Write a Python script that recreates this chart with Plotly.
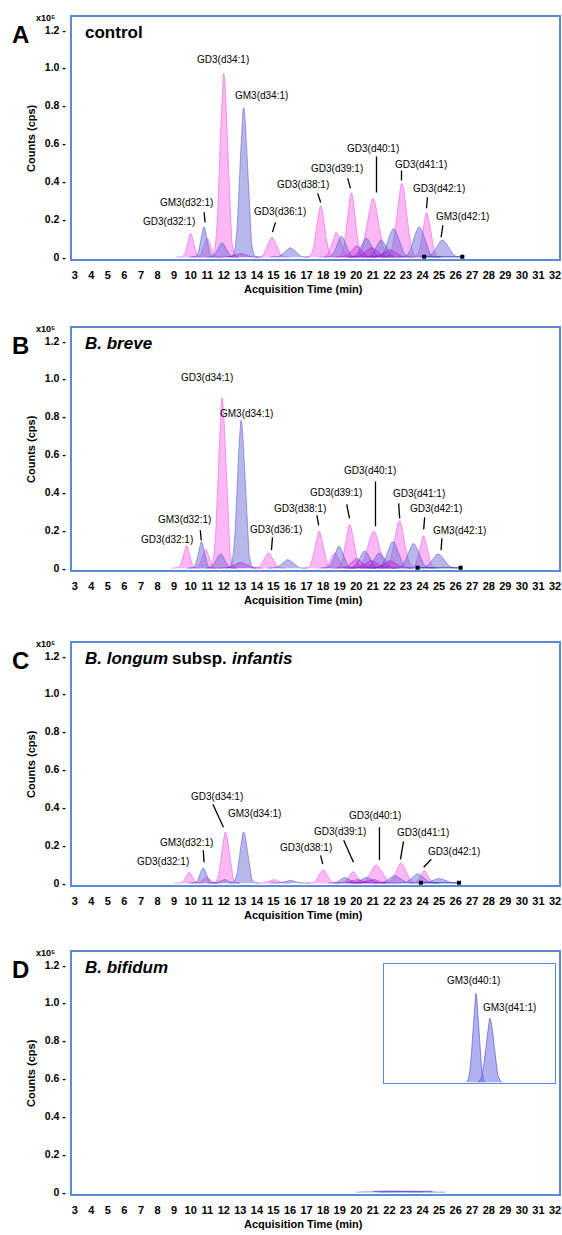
import numpy as np
import plotly.graph_objects as go

# ---------------- data (retention time in min, height in x10^5 cps, width sigma in min) -------------
x_ticks = list(range(3, 33))
y_ticks = [0, 0.2, 0.4, 0.6, 0.8, 1.0, 1.2]
y_tick_text = ["0 -", "0.2 -", "0.4 -", "0.6 -", "0.8 -", "1.0 -", "1.2 -"]

# Panel A: control
A_gd3_rt = [10.0, 11.0, 12.0, 14.9, 17.85, 18.8, 19.7, 21.0, 22.75, 24.25]
A_gd3_h = [0.125, 0.10, 0.97, 0.105, 0.27, 0.13, 0.34, 0.31, 0.39, 0.235]
A_gd3_w = [0.18, 0.2, 0.22, 0.26, 0.24, 0.26, 0.24, 0.34, 0.29, 0.23]
A_gm3_rt = [10.8, 11.9, 13.2, 16.0, 19.1, 20.6, 21.5, 22.25, 23.8, 25.2]
A_gm3_h = [0.16, 0.075, 0.79, 0.05, 0.11, 0.10, 0.09, 0.15, 0.16, 0.09]
A_gm3_w = [0.18, 0.24, 0.22, 0.3, 0.26, 0.3, 0.3, 0.32, 0.32, 0.34]
A_min_rt = [13.0, 20.0, 20.9, 22.0]
A_min_h = [0.02, 0.06, 0.05, 0.04]
A_min_w = [0.34, 0.3, 0.34, 0.34]
A_mark = [24.1, 26.4]

# Panel B: B. breve
B_gd3_rt = [9.75, 10.9, 11.9, 14.7, 17.75, 18.7, 19.6, 21.05, 22.6, 24.05]
B_gd3_h = [0.12, 0.10, 0.90, 0.08, 0.195, 0.08, 0.23, 0.195, 0.25, 0.17]
B_gd3_w = [0.18, 0.2, 0.22, 0.26, 0.24, 0.24, 0.24, 0.34, 0.29, 0.23]
B_gm3_rt = [10.65, 11.8, 13.05, 15.85, 18.95, 20.5, 21.4, 22.2, 23.45, 24.95]
B_gm3_h = [0.14, 0.075, 0.78, 0.045, 0.115, 0.09, 0.08, 0.14, 0.13, 0.075]
B_gm3_w = [0.18, 0.24, 0.22, 0.3, 0.26, 0.3, 0.3, 0.32, 0.32, 0.34]
B_min_rt = [13.0, 20.0, 20.9, 22.0]
B_min_h = [0.03, 0.05, 0.04, 0.04]
B_min_w = [0.34, 0.3, 0.34, 0.34]
B_mark = [23.7, 26.3]

# Panel C: B. longum subsp. infantis
C_gd3_rt = [9.9, 10.95, 12.1, 15.0, 18.0, 19.8, 21.2, 22.7, 24.1]
C_gd3_h = [0.058, 0.03, 0.27, 0.02, 0.07, 0.06, 0.095, 0.105, 0.065]
C_gd3_w = [0.18, 0.2, 0.22, 0.26, 0.24, 0.24, 0.34, 0.29, 0.23]
C_gm3_rt = [10.75, 12.0, 13.2, 16.0, 19.3, 20.6, 22.3, 23.7, 25.0]
C_gm3_h = [0.08, 0.02, 0.27, 0.015, 0.03, 0.03, 0.04, 0.05, 0.025]
C_gm3_w = [0.18, 0.24, 0.22, 0.3, 0.26, 0.3, 0.32, 0.32, 0.34]
C_min_rt = [20.0, 21.0]
C_min_h = [0.02, 0.02]
C_min_w = [0.34, 0.34]
C_mark = [23.9, 26.2]

# Panel D: B. bifidum (tiny GM3 signal) and inset
D_gm3_rt = [22.0, 23.4]
D_gm3_h = [0.006, 0.004]
D_gm3_w = [0.5, 0.5]
INSET_rt = [23.38, 24.2]
INSET_h = [0.75, 0.54]
INSET_w = [0.17, 0.22]
INSET_names = ["GM3(d40:1)", "GM3(d41:1)"]

# peak labels: text, x (min), y (x10^5 cps), leader line
A_lbl = ["GD3(d34:1)", "GM3(d34:1)", "GM3(d32:1)", "GD3(d32:1)", "GD3(d36:1)", "GD3(d38:1)",
         "GD3(d39:1)", "GD3(d40:1)", "GD3(d41:1)", "GD3(d42:1)", "GM3(d42:1)"]
A_lbl_x = [11.98, 14.30, 9.77, 8.72, 15.41, 16.80, 18.84, 20.99, 23.90, 25.0, 26.40]
A_lbl_y = [1.042, 0.853, 0.289, 0.189, 0.242, 0.384, 0.468, 0.574, 0.489, 0.363, 0.216]
A_lead = [None, None, (10.81, 0.237, 10.87, 0.184), None, (15.12, 0.184, 14.94, 0.132),
          (17.67, 0.337, 17.85, 0.289), (19.48, 0.416, 19.65, 0.363), (21.22, 0.532, 21.22, 0.342),
          (22.73, 0.458, 22.73, 0.405), (24.30, 0.316, 24.24, 0.258), (25.23, 0.168, 25.12, 0.105)]

B_lbl = A_lbl
B_lbl_x = [11.0, 13.4, 9.60, 8.55, 15.17, 16.63, 18.78, 20.81, 23.78, 24.83, 26.22]
B_lbl_y = [1.005, 0.816, 0.258, 0.153, 0.205, 0.316, 0.400, 0.516, 0.395, 0.316, 0.200]
B_lead = [None, None, (10.58, 0.200, 10.64, 0.147), None, (14.94, 0.163, 14.88, 0.095),
          (17.62, 0.279, 17.73, 0.226), (19.42, 0.337, 19.59, 0.263), (21.16, 0.458, 21.16, 0.221),
          (22.56, 0.342, 22.62, 0.263), (24.13, 0.268, 24.07, 0.205), (25.17, 0.158, 25.12, 0.095)]

C_lbl = ["GD3(d34:1)", "GM3(d34:1)", "GM3(d32:1)", "GD3(d32:1)", "GD3(d38:1)",
         "GD3(d39:1)", "GD3(d40:1)", "GD3(d41:1)", "GD3(d42:1)"]
C_lbl_x = [11.57, 13.84, 9.77, 8.30, 16.98, 19.01, 21.16, 24.01, 25.93]
C_lbl_y = [0.458, 0.368, 0.216, 0.116, 0.189, 0.274, 0.358, 0.268, 0.168]
C_lead = [(11.34, 0.416, 11.98, 0.295), None, (10.76, 0.174, 10.81, 0.110), None,
          (17.85, 0.147, 17.97, 0.100), (19.24, 0.226, 19.83, 0.110), (21.40, 0.295, 21.40, 0.121),
          (22.85, 0.221, 22.67, 0.126), (24.53, 0.126, 24.07, 0.084)]

INSET_lbl_x = [23.26, 25.37]
INSET_lbl_y = [0.857, 0.63]

# panel titles as (text, italic) pieces
titles = [
    [("control", False)],
    [("B. breve", True)],
    [("B. longum", True), ("subsp.", False), ("infantis", True)],
    [("B. bifidum", True)],
]
letters = ["A", "B", "C", "D"]

# ---------------- styling ----------------
W, H = 562, 1235
FONT = "Liberation Sans, Arial, Helvetica, sans-serif"
AX = "#5b8ad6"
PINK_FILL = "rgba(245,85,230,0.42)"
PINK_LINE = "rgba(230,60,210,0.55)"
BLUE_FILL = "rgba(105,105,215,0.48)"
BLUE_LINE = "rgba(85,85,200,0.65)"
MAG_FILL = "rgba(185,0,215,0.32)"
MAG_LINE = "rgba(170,0,200,0.5)"

X0, X1 = 72, 561
PX_PER_MIN = (557 - 75) / 29.0
XR = [3 - (75 - X0) / PX_PER_MIN, 32 + (X1 - 557) / PX_PER_MIN]
PX_PER_UNIT = 190.0
TITLE_SIZE = 17
# approximate advance widths (em) of bold Liberation Sans for laying out title pieces
CHAR_EM = {"B": 0.722, ".": 0.278, " ": 0.278, "l": 0.278, "o": 0.611, "n": 0.611, "g": 0.611,
           "u": 0.611, "m": 0.889, "s": 0.556, "b": 0.611, "p": 0.611}

# (box top px, zero px)
panels = [(17, 258), (329, 570), (645, 886), (955, 1196)]

fig = go.Figure()
layout = dict(width=W, height=H, margin=dict(l=0, r=0, t=0, b=0), paper_bgcolor="white",
              plot_bgcolor="white", showlegend=False)
annotations = []
shapes = []


def peak_trace(rt, h, w, fill, line, xa, ya):
    half = max(4 * w, 0.9)
    xs = np.linspace(rt - half, rt + half, 90)
    ys = h * np.exp(-0.5 * ((xs - rt) / w) ** 2)
    return go.Scatter(x=xs, y=ys, mode="lines", fill="tozeroy", fillcolor=fill,
                      line=dict(color=line, width=0.8), xaxis=xa, yaxis=ya, hoverinfo="skip")


series = [
    [(A_gd3_rt, A_gd3_h, A_gd3_w, PINK_FILL, PINK_LINE), (A_gm3_rt, A_gm3_h, A_gm3_w, BLUE_FILL, BLUE_LINE),
     (A_min_rt, A_min_h, A_min_w, MAG_FILL, MAG_LINE)],
    [(B_gd3_rt, B_gd3_h, B_gd3_w, PINK_FILL, PINK_LINE), (B_gm3_rt, B_gm3_h, B_gm3_w, BLUE_FILL, BLUE_LINE),
     (B_min_rt, B_min_h, B_min_w, MAG_FILL, MAG_LINE)],
    [(C_gd3_rt, C_gd3_h, C_gd3_w, PINK_FILL, PINK_LINE), (C_gm3_rt, C_gm3_h, C_gm3_w, BLUE_FILL, BLUE_LINE),
     (C_min_rt, C_min_h, C_min_w, MAG_FILL, MAG_LINE)],
    [(D_gm3_rt, D_gm3_h, D_gm3_w, BLUE_FILL, BLUE_LINE)],
]
marks = [A_mark, B_mark, C_mark, None]
labels = [(A_lbl, A_lbl_x, A_lbl_y, A_lead), (B_lbl, B_lbl_x, B_lbl_y, B_lead),
          (C_lbl, C_lbl_x, C_lbl_y, C_lead), None]


def txt(text, x, y, size, anchor="center", italic=False, bold=True, angle=0, xref="paper", yref="paper"):
    return dict(text=text, x=x, y=y, xref=xref, yref=yref, showarrow=False, xanchor=anchor,
                yanchor="middle", textangle=angle,
                font=dict(family=FONT, size=size, color="black", weight="bold" if bold else "normal",
                          style="italic" if italic else "normal"))


for i, (top, zero) in enumerate(panels):
    n = i + 1
    sfx = "" if n == 1 else str(n)
    xa, ya = "x" + sfx, "y" + sfx
    bottom = zero + 2
    ylo = -(bottom - zero) / PX_PER_UNIT
    yhi = (zero - top) / PX_PER_UNIT
    layout["xaxis" + sfx] = dict(
        domain=[X0 / W, X1 / W], range=XR, anchor=ya, tickmode="array", tickvals=x_ticks,
        ticktext=[str(t) for t in x_ticks], ticks="", ticklabelstandoff=5, ticklabeloverflow="allow",
        tickfont=dict(family=FONT, size=11, color="black", weight="bold"),
        showline=True, linecolor=AX, linewidth=1.6, mirror=True, showgrid=False, zeroline=False)
    layout["yaxis" + sfx] = dict(
        domain=[1 - bottom / H, 1 - top / H], range=[ylo, yhi], anchor=xa, tickmode="array",
        tickvals=y_ticks, ticktext=y_tick_text, ticks="", ticklabelstandoff=2,
        tickfont=dict(family=FONT, size=10.5, color="black", weight="bold"),
        showline=True, linecolor=AX, linewidth=1.6, mirror=True, showgrid=False, zeroline=False)

    for rts, hs, ws, fc, lc in series[i]:
        for rt, h, w in zip(rts, hs, ws):
            fig.add_trace(peak_trace(rt, h, w, fc, lc, xa, ya))
    if i == 3:
        fig.add_trace(go.Scatter(x=[21.05, 24.6], y=[0.003, 0.003], mode="lines",
                                 line=dict(color=BLUE_LINE, width=1.5), xaxis=xa, yaxis=ya))
    if marks[i] is not None:
        fig.add_trace(go.Scatter(x=marks[i], y=[0.002, 0.002], mode="lines+markers",
                                 line=dict(color="rgba(40,60,170,0.8)", width=1),
                                 marker=dict(symbol="square", size=4, color="black"),
                                 xaxis=xa, yaxis=ya))
    if labels[i] is not None:
        txts, lx, ly, leads = labels[i]
        for t, x, y, ld in zip(txts, lx, ly, leads):
            annotations.append(txt(t, x, y, 10, bold=False, xref=xa, yref=ya))
            if ld is not None:
                shapes.append(dict(type="line", xref=xa, yref=ya, x0=ld[0], y0=ld[1], x1=ld[2], y1=ld[3],
                                   line=dict(color="black", width=1.3)))

    # panel decorations
    annotations.append(txt(letters[i], 21 / W, 1 - (top + 18) / H, 24))
    annotations.append(txt("x10⁵", 46 / W, 1 - (top + 1) / H, 9))
    xpos = 83.0
    for piece, ital in titles[i]:
        annotations.append(txt(piece, xpos / W, 1 - (top + 16) / H, TITLE_SIZE, anchor="left", italic=ital))
        xpos += sum(CHAR_EM.get(c, 0.6) for c in piece + " ") * TITLE_SIZE
    annotations.append(txt("Counts (cps)", 31 / W, 1 - ((top + bottom) / 2) / H, 11, angle=-90))
    annotations.append(txt("Acquisition Time (min)", 305 / W, 1 - (zero + 32) / H, 11))

# inset in panel D
IN_L, IN_R, IN_T, IN_B = 385, 557, 967, 1087
layout["xaxis5"] = dict(domain=[IN_L / W, IN_R / W], range=[18, 28], anchor="y5", showticklabels=False,
                        ticks="", showline=True, linecolor=AX, linewidth=1.2, mirror=True,
                        showgrid=False, zeroline=False)
layout["yaxis5"] = dict(domain=[1 - IN_B / H, 1 - IN_T / H], range=[-0.01, 1.0], anchor="x5",
                        showticklabels=False, ticks="", showline=True, linecolor=AX, linewidth=1.2,
                        mirror=True, showgrid=False, zeroline=False)
for rt, h, w in zip(INSET_rt, INSET_h, INSET_w):
    xs = np.linspace(rt - 3.2 * w, rt + 3.2 * w, 90)
    ys = h * np.exp(-0.5 * ((xs - rt) / w) ** 2)
    fig.add_trace(go.Scatter(x=xs, y=ys, mode="lines", fill="tozeroy", fillcolor="rgba(100,100,225,0.5)",
                             line=dict(color="rgba(90,90,215,0.7)", width=1), xaxis="x5", yaxis="y5"))
for t, x, y in zip(INSET_names, INSET_lbl_x, INSET_lbl_y):
    annotations.append(txt(t, x, y, 10, bold=False, xref="x5", yref="y5"))

layout["annotations"] = annotations
layout["shapes"] = shapes
fig.update_layout(**layout)
fig.write_html("out.html")
